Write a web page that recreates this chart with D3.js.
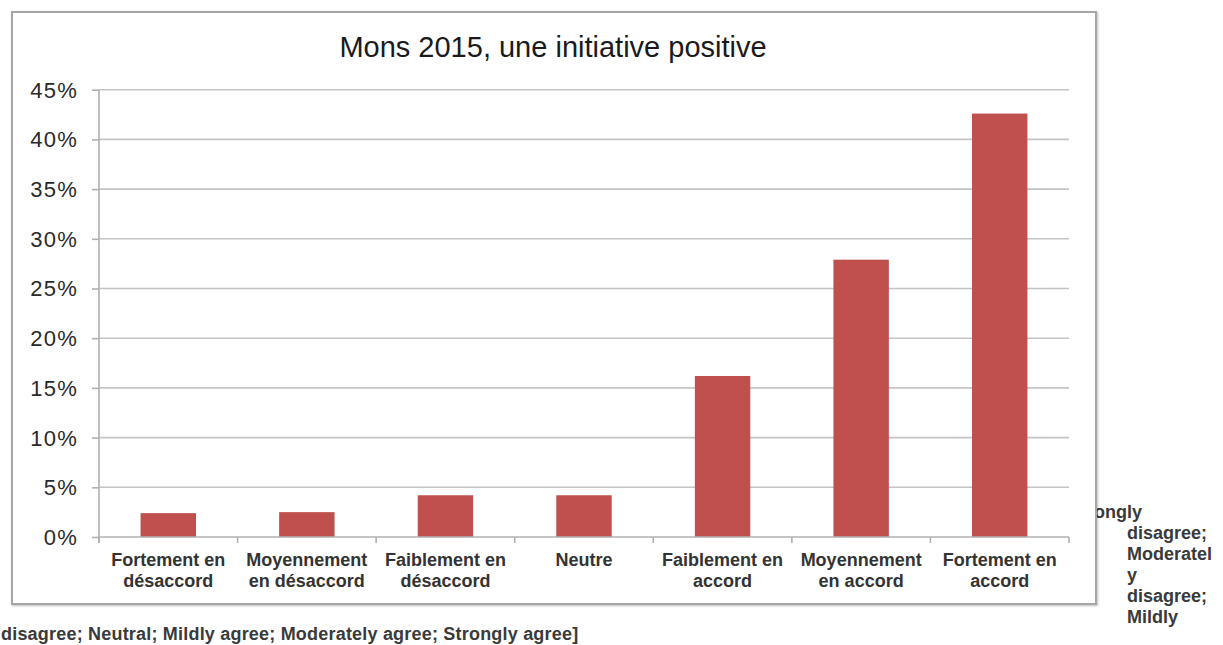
<!DOCTYPE html>
<html>
<head>
<meta charset="utf-8">
<script src="https://cdn.jsdelivr.net/npm/d3@7/dist/d3.min.js"></script>
<style>
  html, body { margin: 0; padding: 0; background: #ffffff; }
  svg { display: block; }
  text { font-family: "Liberation Sans", Arial, sans-serif; }
</style>
</head>
<body>
<svg id="chart" width="1223" height="645"></svg>
<script>
const title = "Mons 2015, une initiative positive";
const categories = ["Fortement en désaccord", "Moyennement en désaccord", "Faiblement en désaccord", "Neutre", "Faiblement en accord", "Moyennement en accord", "Fortement en accord"];
const categoryLines = [["Fortement en", "désaccord"], ["Moyennement", "en désaccord"], ["Faiblement en", "désaccord"], ["Neutre"], ["Faiblement en", "accord"], ["Moyennement", "en accord"], ["Fortement en", "accord"]];
const values = [2.4, 2.5, 4.2, 4.2, 16.2, 27.9, 42.6];
const yTicks = [0, 5, 10, 15, 20, 25, 30, 35, 40, 45];
const sideTextLines = ["Strongly", "disagree;", "Moderatel", "y", "disagree;", "Mildly"];
const bottomText = "disagree; Neutral; Mildly agree; Moderately agree; Strongly agree]";

const svg = d3.select("#chart");
const font = '"Liberation Sans", Arial, sans-serif';

// Stray caption text (behind the chart image)
const side = svg.append("g").attr("fill", "#3a3a3a").attr("font-weight", "bold").attr("font-size", 18);
sideTextLines.forEach((t, i) => {
  side.append("text").attr("x", i === 0 ? 1069 : 1127).attr("y", 518 + i * 21).text(t);
});
side.append("text").attr("x", 1).attr("y", 640).attr("letter-spacing", 0.2).text(bottomText);

// Chart panel
const defs = svg.append("defs");
const f = defs.append("filter").attr("id", "sh").attr("x", "-5%").attr("y", "-5%").attr("width", "110%").attr("height", "110%");
f.append("feDropShadow").attr("dx", 1).attr("dy", 1).attr("stdDeviation", 1).attr("flood-color", "#000").attr("flood-opacity", 0.25);
svg.append("rect").attr("x", 12).attr("y", 12).attr("width", 1084).attr("height", 592)
  .attr("fill", "#ffffff").attr("stroke", "#a6a6a6").attr("stroke-width", 2).attr("filter", "url(#sh)");

// Title
svg.append("text").attr("x", 553).attr("y", 57).attr("text-anchor", "middle")
  .attr("font-size", 29).attr("fill", "#1a1a1a").text(title);

const x = d3.scaleBand().domain(categories).range([99, 1069]).paddingInner(0).paddingOuter(0);
const y = d3.scaleLinear().domain([0, 45]).range([537, 89.7]);

// Gridlines
svg.append("g").selectAll("line").data(yTicks.filter(d => d > 0)).join("line")
  .attr("x1", 99).attr("x2", 1069).attr("y1", d => y(d)).attr("y2", d => y(d))
  .attr("stroke", "#c4c4c4").attr("stroke-width", 1.6);

// Y axis
const yAxis = svg.append("g").attr("transform", "translate(99,0)")
  .call(d3.axisLeft(y).tickValues(yTicks).tickFormat(d => d + "%").tickSize(7).tickPadding(14));
yAxis.select(".domain").attr("stroke", "#b0b0b0").attr("stroke-width", 1.6).attr("d", `M0,${y(45)}V${y(0) + 6}`);
yAxis.selectAll(".tick line").attr("stroke", "#b0b0b0").attr("stroke-width", 1.6);
yAxis.selectAll(".tick text").attr("font-family", font).attr("font-size", 22).attr("fill", "#2a2a2a")
  .attr("letter-spacing", 1.2).attr("dy", "0.34em");

// Bars
svg.append("g").selectAll("rect").data(values).join("rect")
  .attr("x", (d, i) => x(categories[i]) + x.bandwidth() * 0.3)
  .attr("width", x.bandwidth() * 0.4)
  .attr("y", d => y(d))
  .attr("height", d => y(0) - y(d))
  .attr("fill", "#c0504d");

// X axis line and boundary ticks
const xa = svg.append("g");
xa.append("line").attr("x1", 99).attr("x2", 1069).attr("y1", y(0)).attr("y2", y(0))
  .attr("stroke", "#b0b0b0").attr("stroke-width", 1.6);
const bounds = categories.map(c => x(c)).concat([x.range()[1]]);
xa.selectAll("line.t").data(bounds).join("line").attr("class", "t")
  .attr("x1", d => d).attr("x2", d => d).attr("y1", y(0)).attr("y2", y(0) + 6)
  .attr("stroke", "#b0b0b0").attr("stroke-width", 1.6);

// Category labels
const lab = svg.append("g").attr("font-size", 18).attr("font-weight", "bold").attr("fill", "#333").attr("text-anchor", "middle");
categories.forEach((c, i) => {
  const cx = x(c) + x.bandwidth() / 2;
  categoryLines[i].forEach((ln, j) => {
    lab.append("text").attr("x", cx).attr("y", 566 + j * 21).text(ln);
  });
});
</script>
</body>
</html>
